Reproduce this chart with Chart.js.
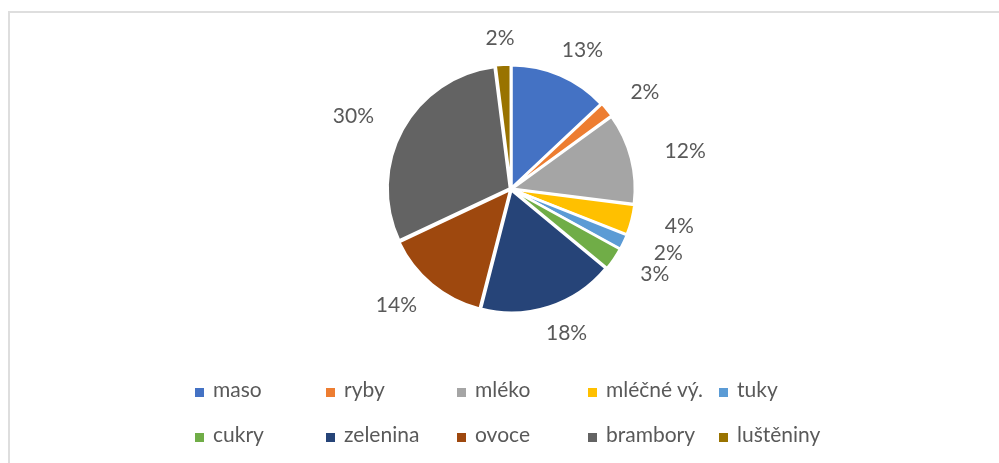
<!DOCTYPE html>
<html>
<head>
<meta charset="utf-8">
<script src="https://cdn.jsdelivr.net/npm/chart.js@4"></script>
<style>
  body { margin: 0; background: #fff; }
  #wrap { position: relative; width: 999px; height: 463px; overflow: hidden; }
  #frame { position: absolute; left: 8px; top: 11px; width: 1100px; height: 600px; border: 2px solid #dedede; box-sizing: border-box; }
  #pie { position: absolute; left: 0; top: 0; }
  .item { position: absolute; font-family: Lato, sans-serif; font-size: 21px; color: #595959; line-height: 24px; white-space: nowrap; }
  .box { position: absolute; width: 9px; height: 9px; }
</style>
</head>
<body>
<div id="wrap">
  <div id="frame"></div>
  <canvas id="pie" width="999" height="463"></canvas>
  <div id="legend"></div>
</div>
<script>
// kategorie a podíly (%)
const categories = ["maso", "ryby", "mléko", "mléčné vý.", "tuky", "cukry", "zelenina", "ovoce", "brambory", "luštěniny"];
const shares = [13, 2, 12, 4, 2, 3, 18, 14, 30, 2];
const colors = ["#4472C4", "#ED7D31", "#A5A5A5", "#FFC000", "#5B9BD5", "#70AD47", "#264478", "#9E480E", "#636363", "#997300"];

// popisky procent vedle výsečí
const pctLabels = {
    id: "pctLabels",
    afterDatasetsDraw(chart) {
        const ctx = chart.ctx;
        const meta = chart.getDatasetMeta(0);
        const total = shares.reduce((a, b) => a + b, 0);
        ctx.save();
        ctx.font = "21px Lato";
        ctx.fillStyle = "#595959";
        ctx.textAlign = "center";
        ctx.textBaseline = "middle";
        meta.data.forEach((arc, i) => {
            const p = arc.getProps(["x", "y", "startAngle", "endAngle", "outerRadius"], true);
            const a = (p.startAngle + p.endAngle) / 2;
            const R = p.outerRadius + 5;
            const txt = Math.round(shares[i] / total * 100) + "%";
            const w = ctx.measureText(txt).width;
            const lx = p.x + Math.cos(a) * (R + 32 + w / 2);
            const ly = p.y + Math.sin(a) * (R + 24);
            ctx.fillText(txt, lx, ly);
        });
        ctx.restore();
    }
};

new Chart(document.getElementById("pie"), {
    type: "pie",
    data: {
        labels: categories,
        datasets: [{
            data: shares,
            backgroundColor: colors,
            borderColor: "#ffffff",
            borderWidth: 2.5,
            offset: 5
        }]
    },
    options: {
        responsive: false,
        animation: false,
        layout: { padding: { left: 385, right: 362, top: 63, bottom: 148 } },
        plugins: {
            legend: { display: false },
            tooltip: { enabled: false }
        }
    },
    plugins: [pctLabels]
});

// legenda ve dvou řádcích po pěti
const legend = document.getElementById("legend");
categories.forEach((name, i) => {
    const col = i % 5, row = Math.floor(i / 5);
    const left = 195 + col * 131;
    const mid = 392 + row * 45;
    const box = document.createElement("div");
    box.className = "box";
    box.style.left = left + "px";
    box.style.top = (mid - 4) + "px";
    box.style.background = colors[i];
    legend.appendChild(box);
    const t = document.createElement("div");
    t.className = "item";
    t.textContent = name;
    t.style.left = (left + 18) + "px";
    t.style.top = (mid - 15) + "px";
    legend.appendChild(t);
});
</script>
</body>
</html>
